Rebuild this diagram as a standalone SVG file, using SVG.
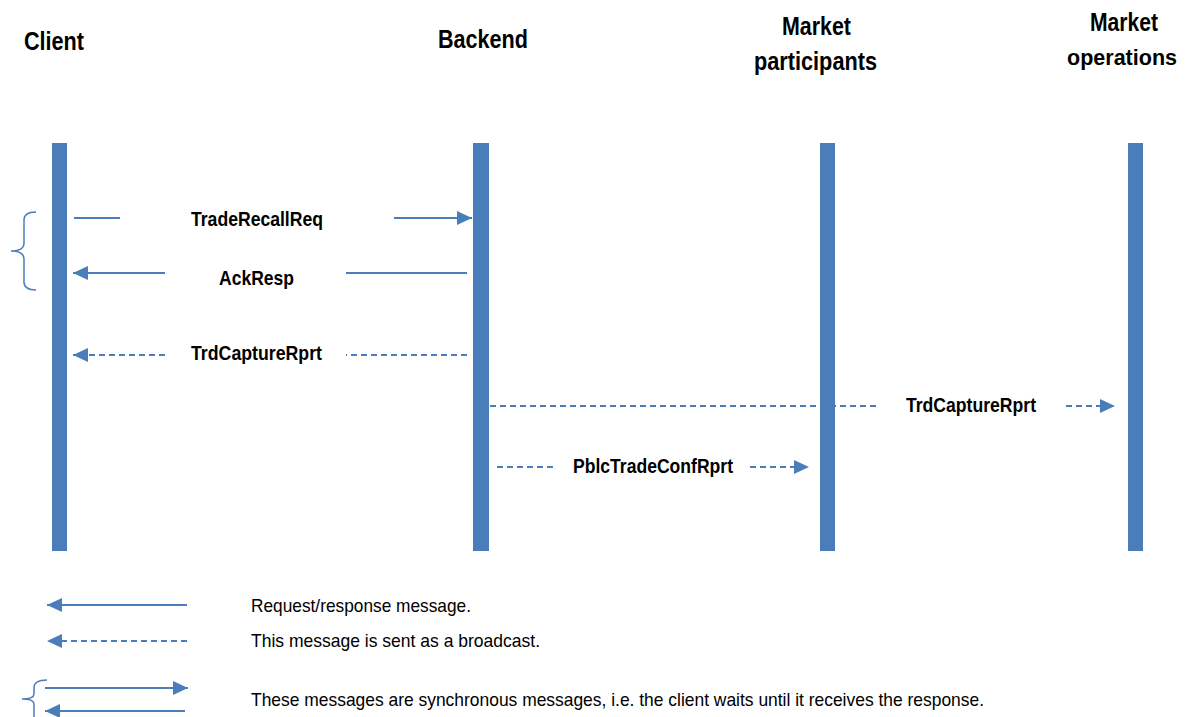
<svg xmlns="http://www.w3.org/2000/svg" width="1186" height="717" viewBox="0 0 1186 717">
  <style>
    .head { font-family: "Liberation Sans", Arial, sans-serif; font-weight: bold; font-size: 25px; fill: #000; }
    .msg { font-family: "Liberation Sans", Arial, sans-serif; font-weight: bold; font-size: 21px; fill: #000; }
    .note { font-family: "Liberation Sans", Arial, sans-serif; font-size: 19px; fill: #000; }
    .bar { fill: #4A7EBB; }
    .ln { stroke: #4A7EBB; stroke-width: 2; fill: none; }
    .dash { stroke-dasharray: 6 4; }
    .brace { stroke: #4A7EBB; stroke-width: 1.5; fill: none; }
  </style>
  <defs>
    <marker id="ah" viewBox="0 0 15 14" refX="15" refY="7" markerWidth="7.5" markerHeight="7" markerUnits="strokeWidth" orient="auto">
      <path d="M0,0 L15,7 L0,14 Z" fill="#4A7EBB"/>
    </marker>
  </defs>
  <rect width="1186" height="717" fill="#fff"/>

  <g id="client">
    <text class="head" x="24" y="50" textLength="60" lengthAdjust="spacingAndGlyphs">Client</text>
    <rect class="bar" x="52" y="143" width="15" height="408"/>
  </g>
  <g id="backend">
    <text class="head" x="438" y="48" textLength="90" lengthAdjust="spacingAndGlyphs">Backend</text>
    <rect class="bar" x="473" y="143" width="16" height="408"/>
  </g>
  <g id="market-participants">
    <text class="head" x="782" y="35" textLength="69" lengthAdjust="spacingAndGlyphs">Market</text>
    <text class="head" x="754" y="70" textLength="123" lengthAdjust="spacingAndGlyphs">participants</text>
    <rect class="bar" x="820" y="143" width="15" height="408"/>
  </g>
  <g id="market-operations">
    <text class="head" x="1090" y="31" textLength="68" lengthAdjust="spacingAndGlyphs">Market</text>
    <text class="head" x="1067" y="65" style="font-size:22px" textLength="110" lengthAdjust="spacingAndGlyphs">operations</text>
    <rect class="bar" x="1128" y="143" width="15" height="408"/>
  </g>

  <g id="connectors">
    <!-- TradeRecallReq -->
    <line class="ln" x1="74" y1="218" x2="120" y2="218"/>
    <line class="ln" x1="394" y1="218" x2="472" y2="218" marker-end="url(#ah)"/>
    <text class="msg" x="191" y="226" textLength="132" lengthAdjust="spacingAndGlyphs">TradeRecallReq</text>
    <!-- AckResp -->
    <line class="ln" x1="467" y1="273" x2="346" y2="273"/>
    <line class="ln" x1="165" y1="273" x2="73" y2="273" marker-end="url(#ah)"/>
    <text class="msg" x="219" y="285" textLength="75" lengthAdjust="spacingAndGlyphs">AckResp</text>
    <!-- TrdCaptureRprt to client -->
    <line class="ln dash" x1="467" y1="355" x2="346" y2="355"/>
    <line class="ln dash" x1="165" y1="355" x2="73" y2="355" marker-end="url(#ah)"/>
    <text class="msg" x="191" y="360" textLength="131" lengthAdjust="spacingAndGlyphs">TrdCaptureRprt</text>
    <!-- TrdCaptureRprt to market operations -->
    <line class="ln dash" x1="490" y1="406" x2="878" y2="406"/>
    <line class="ln dash" x1="1066" y1="406" x2="1115" y2="406" marker-end="url(#ah)"/>
    <text class="msg" x="906" y="412" textLength="130" lengthAdjust="spacingAndGlyphs">TrdCaptureRprt</text>
    <!-- PblcTradeConfRprt -->
    <line class="ln dash" x1="497" y1="467" x2="553" y2="467"/>
    <line class="ln dash" x1="750" y1="467" x2="809" y2="467" marker-end="url(#ah)"/>
    <text class="msg" x="573" y="473" textLength="160" lengthAdjust="spacingAndGlyphs">PblcTradeConfRprt</text>
    <!-- synchronous pair brace -->
    <path class="brace" d="M36,212 Q24,212 24,220 L24,243 Q24,251 11,251 Q24,251 24,259 L24,282 Q24,290 36,290"/>
  </g>

  <g id="legend">
    <line class="ln" x1="187" y1="605" x2="47" y2="605" marker-end="url(#ah)"/>
    <text class="note" x="251" y="612" textLength="220" lengthAdjust="spacingAndGlyphs">Request/response message.</text>
    <line class="ln dash" x1="187" y1="641" x2="47" y2="641" marker-end="url(#ah)"/>
    <text class="note" x="251" y="647" textLength="289" lengthAdjust="spacingAndGlyphs">This message is sent as a broadcast.</text>
    <line class="ln" x1="45" y1="688" x2="188" y2="688" marker-end="url(#ah)"/>
    <line class="ln" x1="185" y1="711" x2="45" y2="711" marker-end="url(#ah)"/>
    <path class="brace" d="M47,680 Q34,680 34,688 L34,694 Q34,699 22,699 Q34,699 34,704 L34,717"/>
    <text class="note" x="251" y="706" textLength="733" lengthAdjust="spacingAndGlyphs">These messages are synchronous messages, i.e. the client waits until it receives the response.</text>
  </g>
</svg>
